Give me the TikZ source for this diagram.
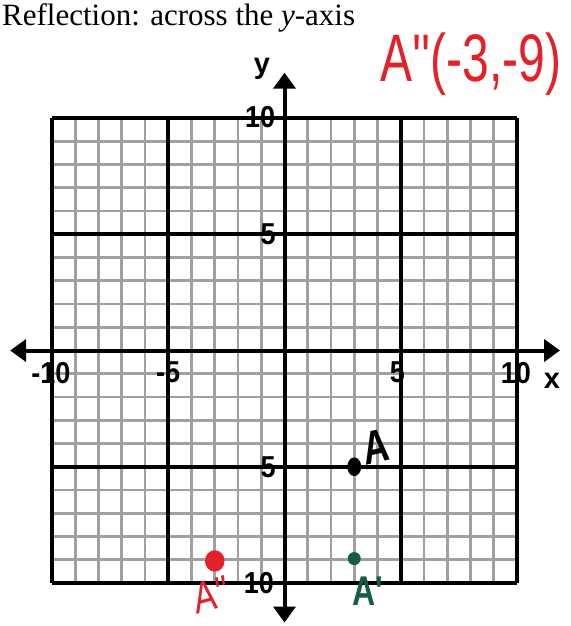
\documentclass[tikz,border=0pt]{standalone}
\usepackage{fontspec}
\setmainfont{Liberation Serif}
\newfontfamily\labfont{Liberation Sans}
\usetikzlibrary{arrows.meta}
\definecolor{handred}{RGB}{228,32,40}
\definecolor{handgreen}{RGB}{22,92,72}
\definecolor{gridgray}{RGB}{160,160,160}
\begin{document}
\begin{tikzpicture}[x=1pt,y=-1pt,
  minorline/.style={draw=gridgray,line width=2.6pt},
  majorline/.style={draw=black,line width=3.6pt},
  axisline/.style={draw=black,line width=4pt,{Triangle[length=16pt,width=22pt]}-{Triangle[length=16pt,width=22pt]}},
  ticklab/.style={font=\labfont\bfseries\fontsize{27}{27}\selectfont,inner sep=0pt,text=black,yscale=1.12},
  axislab/.style={font=\labfont\bfseries\fontsize{29}{29}\selectfont,inner sep=0pt},
  hand/.style={font=\labfont\bfseries\fontsize{36}{36}\selectfont,inner sep=0pt,yscale=1.3}]
\useasboundingbox (0,0) rectangle (570,626);
\fill[white] (0,0) rectangle (570,626);
\node[anchor=base west,inner sep=0pt,font=\fontsize{31}{31}\selectfont] (title) at (2,26) {Reflection: across the \textit{y}-axis};
\node[font=\labfont\fontsize{48}{48}\selectfont,text=handred,inner sep=0pt,yscale=1.4] (ann) at (471,64) {A''(-3,-9)};
\begin{scope}[shift={(284.5,350.5)},x=23.25pt,y=23.25pt]
  \draw[minorline] (-10,-10) grid[step=1] (10,10);
  \foreach \k in {-10,-5,5,10}{
    \draw[majorline] (\k,-10) -- (\k,10);
    \draw[majorline] (-10,\k) -- (10,\k);
  }
  \coordinate (xl) at (-11.8,0);
  \coordinate (xr) at (11.85,0);
  \coordinate (yt) at (0,11.95);
  \coordinate (yb) at (0,-11.7);
  \draw[axisline] (xl) -- (xr);
  \draw[axisline] (yb) -- (yt);
  \node[ticklab] (xm10) at (-10.05,-0.95) {-10};
  \node[ticklab] (xm5) at (-5.0,-0.95) {-5};
  \node[ticklab] (xp5) at (4.85,-0.95) {5};
  \node[ticklab] (xp10) at (9.95,-0.95) {10};
  \node[ticklab] (yp10) at (-1.05,10.05) {10};
  \node[ticklab] (yp5) at (-0.7,5.0) {5};
  \node[ticklab] (ym5) at (-0.7,-5.0) {5};
  \node[ticklab] (ym10) at (-1.1,-10.0) {10};
  \node[axislab] (ylab) at (-0.97,12.1) {y};
  \node[axislab] (xlab) at (11.5,-1.3) {x};
  \fill[black] (3,-5) ellipse [x radius=0.3,y radius=0.4];
  \node[hand,text=black,rotate=10] (A) at (3.95,-4.15) {A};
  \fill[handgreen] (3,-8.95) circle [radius=0.28];
  \node[hand,text=handgreen,font=\labfont\bfseries\fontsize{32}{32}\selectfont] (A1) at (3.6,-10.35) {A'};
  \fill[handred] (-3,-9.05) ellipse [x radius=0.42,y radius=0.46];
  \node[hand,text=handred,rotate=12,font=\labfont\fontsize{34}{34}\selectfont] (A2) at (-3.15,-10.5) {A''};
\end{scope}
\end{tikzpicture}
\end{document}
